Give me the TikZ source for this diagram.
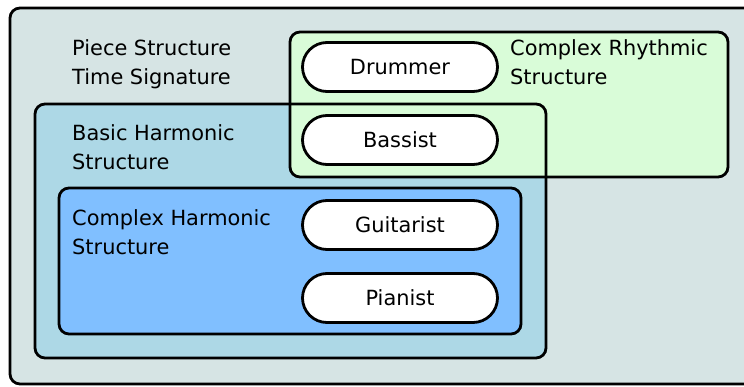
\documentclass[tikz,border=0pt]{standalone}
\usepackage{fontspec}
\setmainfont{DejaVu Sans}
\usetikzlibrary{shapes.misc}

\definecolor{bandgray}{HTML}{D6E4E4}
\definecolor{rhythmgreen}{HTML}{D9FCD8}
\definecolor{basicblue}{HTML}{ADD8E6}
\definecolor{complexblue}{HTML}{80BFFF}

\tikzset{
  region/.style={line width=2.8pt, rounded corners=10pt},
  caption/.style={anchor=base west, inner sep=0pt, align=left,
    font=\fontsize{20.9}{29}\selectfont},
  player/.style={draw, fill=white, line width=2.8pt, rounded rectangle,
    minimum width=195pt, minimum height=49pt, inner sep=0pt,
    font=\fontsize{20.9}{29}\selectfont}
}

\begin{document}
\begin{tikzpicture}[x=1pt, y=-1pt]
      \useasboundingbox (0,0) rectangle (744,387);
      % fills first, so that every border stays on top
      \fill[region, bandgray] (10,8) rectangle (770,384);
      \fill[region, basicblue] (35,104) rectangle (546,358);
      \fill[region, rhythmgreen] (290,32) rectangle (728,177);
      \fill[region, complexblue] (59,188) rectangle (521,334);
      \begin{scope}[region]
        \draw (10,8) rectangle (770,384);
        \draw (35,104) rectangle (546,358);
        \draw (290,32) rectangle (728,177);
        \draw (59,188) rectangle (521,334);
      \end{scope}
      % base anchor sits on the last line
      \draw
        (72,84.5) node[caption] (piece){Piece Structure\\Time Signature}
        (510,84.5) node[caption] (rhythm){Complex Rhythmic\\Structure}
        (72,169.5) node[caption] (basic){Basic Harmonic\\Structure}
        (72,254.5) node[caption] (harmonic){Complex Harmonic\\Structure};
      \draw
        (400,67) node[player] (drummer){Drummer}
        (400,140) node[player] (bassist){Bassist}
        (400,225) node[player] (guitarist){Guitarist}
        (400,298) node[player] (pianist){Pianist};
    \end{tikzpicture}
\end{document}
